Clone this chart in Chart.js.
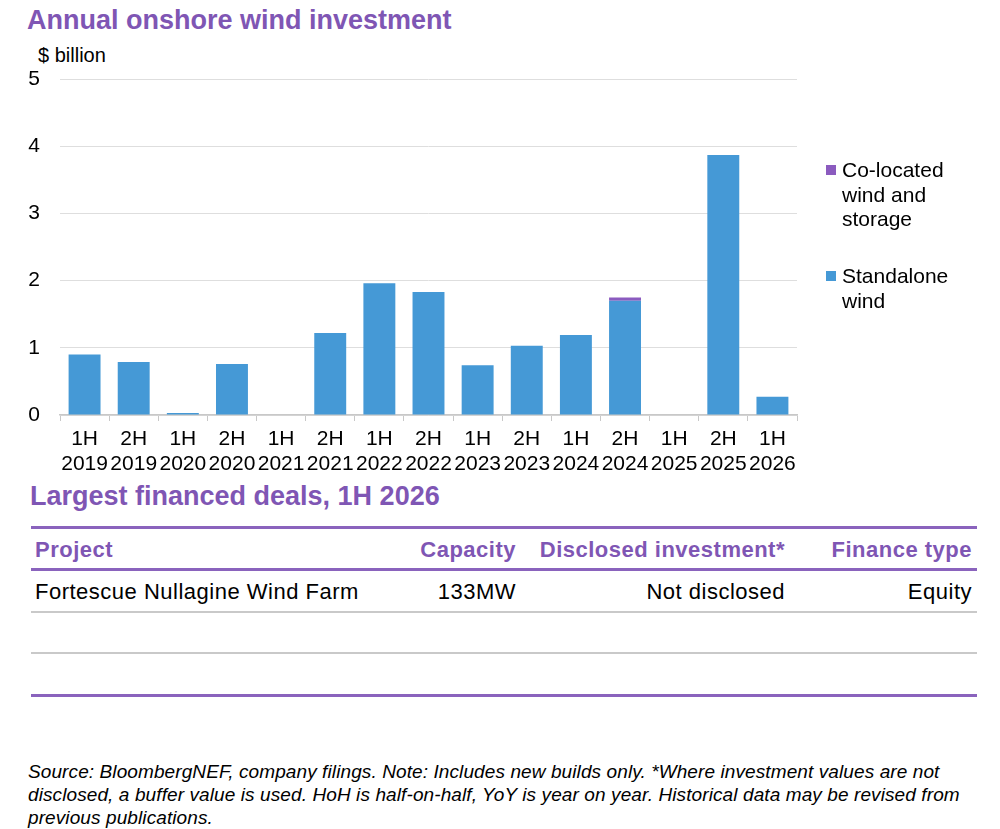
<!DOCTYPE html>
<html lang="en">
<head>
<meta charset="utf-8">
<script src="https://cdn.jsdelivr.net/npm/chart.js@4.4.1/dist/chart.umd.min.js"></script>
<style>
	body { margin:0; background:#fff; font-family:"Liberation Sans", Arial, sans-serif; color:#000; }
	#page { position:relative; width:1000px; height:829px; overflow:hidden; }
	.abs { position:absolute; white-space:nowrap; }
	.purple { color:#7f56b4; font-weight:bold; }
	.title { font-size:27px; line-height:30px; }
	.txt { font-size:21px; line-height:24.5px; }
	.cell { font-size:22px; line-height:24px; letter-spacing:0.5px; }
	.rule { position:absolute; left:31px; width:946px; }
	.sq { position:absolute; width:10px; height:10px; }
	.note { font-size:19px; line-height:23px; font-style:italic; letter-spacing:0.1px; }
</style>
</head>
<body>
<div id="page">
	<div class="abs purple title" style="left:27px;top:5px;">Annual onshore wind investment</div>
	<div class="abs txt" style="left:38px;top:43px;font-size:20px;">$ billion</div>
	<div class="abs" style="left:0;top:0;width:1000px;height:480px;">
		<canvas id="myChart" width="1000" height="480"></canvas>
	</div>

	<!-- legend -->
	<div class="sq" style="left:826px;top:165px;background:#8b5bbf;"></div>
	<div class="abs txt" style="left:842px;top:158px;">Co-located<br>wind and<br>storage</div>
	<div class="sq" style="left:826px;top:271px;background:#4599d6;"></div>
	<div class="abs txt" style="left:842px;top:264px;">Standalone<br>wind</div>

	<!-- table -->
	<div class="abs purple title" style="left:30px;top:481px;">Largest financed deals, 1H 2026</div>
	<div class="rule" style="top:526px;height:3px;background:#8a63bd;"></div>
	<div class="abs purple cell" style="left:35px;top:538px;">Project</div>
	<div class="abs purple cell" style="right:484px;top:538px;">Capacity</div>
	<div class="abs purple cell" style="right:215px;top:538px;">Disclosed investment*</div>
	<div class="abs purple cell" style="right:28px;top:538px;">Finance type</div>
	<div class="rule" style="top:568px;height:3px;background:#8a63bd;"></div>
	<div class="abs cell" style="left:35px;top:580px;">Fortescue Nullagine Wind Farm</div>
	<div class="abs cell" style="right:484px;top:580px;">133MW</div>
	<div class="abs cell" style="right:215px;top:580px;">Not disclosed</div>
	<div class="abs cell" style="right:28px;top:580px;">Equity</div>
	<div class="rule" style="top:611px;height:2px;background:#c9c9c9;"></div>
	<div class="rule" style="top:652px;height:2px;background:#c9c9c9;"></div>
	<div class="rule" style="top:694px;height:3px;background:#8a63bd;"></div>

	<div class="abs note" style="left:28px;top:760px;">Source: BloombergNEF, company filings. Note: Includes new builds only. *Where investment values are not<br>disclosed, a buffer value is used. HoH is half-on-half, YoY is year on year. Historical data may be revised from<br>previous publications.</div>
</div>
<script>
	var halves     = ["1H","2H","1H","2H","1H","2H","1H","2H","1H","2H","1H","2H","1H","2H","1H"];
	var years      = ["2019","2019","2020","2020","2021","2021","2022","2022","2023","2023","2024","2024","2025","2025","2026"];
	var standalone = [0.90, 0.79, 0.03, 0.76, 0, 1.22, 1.96, 1.83, 0.74, 1.03, 1.19, 1.70, 0, 3.87, 0.27];
	var colocated  = [0, 0, 0, 0, 0, 0, 0, 0, 0, 0, 0, 0.05, 0, 0, 0];
	var yTicks     = [0, 1, 2, 3, 4, 5];

	var etiquetas = [];
	for (var i = 0; i < halves.length; i++)
	{
		etiquetas.push([halves[i], years[i]]);
	}

	var ctx = document.getElementById('myChart').getContext('2d');
	var myChart = new Chart(ctx, {
		type: 'bar',
		data:
		{
			labels: etiquetas,
			datasets:
			[{
				label: 'Standalone wind',
				data: standalone,
				backgroundColor: '#4599d6',
				barPercentage: 0.65,
				categoryPercentage: 1
			},
			{
				label: 'Co-located wind and storage',
				data: colocated,
				backgroundColor: '#8b5bbf',
				barPercentage: 0.65,
				categoryPercentage: 1
			}]
		},
		options:
		{
			responsive: false,
			animation: false,
			layout: { padding: { left: 0, right: 203, top: 79, bottom: 0 } },
			plugins: { legend: { display: false }, tooltip: { enabled: false } },
			scales:
			{
				x:
				{
					stacked: true,
					afterFit: function(scale) { scale.height = 65; },
					grid: { drawOnChartArea: false, drawTicks: true, tickLength: 6, color: '#c8c8c8' },
					border: { color: '#c8c8c8', width: 1.5 },
					ticks:
					{
						autoSkip: false,
						maxRotation: 0,
						padding: 6,
						color: '#000',
						font: { family: 'Liberation Sans, Arial', size: 21, lineHeight: 1.18 }
					}
				},
				y:
				{
					stacked: true,
					min: 0,
					max: 5,
					afterFit: function(scale) { scale.width = 60; },
					afterBuildTicks: function(scale) { scale.ticks = yTicks.map(function(v) { return { value: v }; }); },
					grid: { drawTicks: false, color: '#dedede', lineWidth: 1 },
					border: { display: false },
					ticks:
					{
						padding: 20,
						color: '#000',
						font: { family: 'Liberation Sans, Arial', size: 21 }
					}
				}
			}
		}
	});
</script>
</body>
</html>
